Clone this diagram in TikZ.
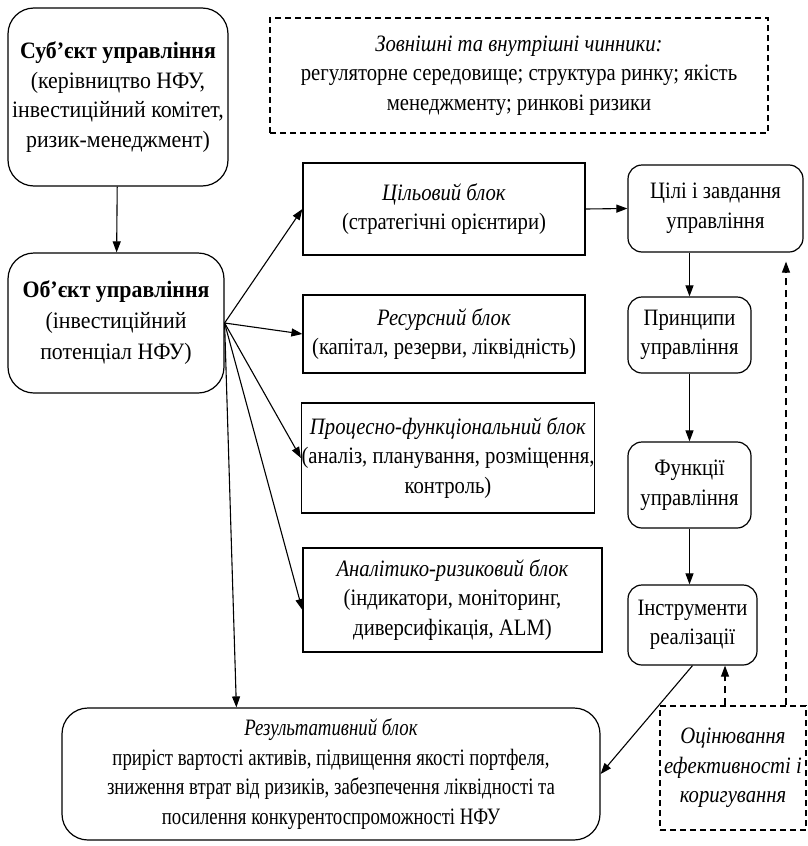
\documentclass[tikz,border=0pt]{standalone}
\usepackage{fontspec}
\setmainfont[FakeStretch=0.88]{Liberation Serif}
\newfontfamily\narrowfont[FakeStretch=0.8]{Liberation Serif}
\newfontfamily\widefont[FakeStretch=0.93]{Liberation Serif}
\usetikzlibrary{arrows.meta,calc}
\begin{document}
\begin{tikzpicture}[x=1pt,y=-1pt,
  every node/.style={font=\fontsize{23.5}{29.5}\selectfont, align=center, inner sep=0pt},
  rbox/.style={draw, line width=1.2pt, rounded corners=14pt},
  bigr/.style={draw, line width=1.2pt, rounded corners=26pt},
  dbox/.style={draw, line width=1.2pt, dash pattern=on 6pt off 4pt},
  arr/.style={line width=1.1pt, -{Triangle[length=11pt,width=8pt]}},
  darr/.style={line width=1.1pt, dash pattern=on 7pt off 5pt, -{Triangle[length=11pt,width=8pt]}}
]
\useasboundingbox (0,0) rectangle (807,846);

\node[bigr, minimum width=220pt, minimum height=178pt, font=\widefont\fontsize{23.5}{29.5}\selectfont] (subj) at (118,97)
  {\textbf{Суб’єкт управління}\\(керівництво НФУ,\\інвестиційний комітет,\\ризик-менеджмент)};
\node[dbox, minimum width=498pt, minimum height=115pt] (ext) at (519,75.5)
  {\textit{Зовнішні та внутрішні чинники:}\\регуляторне середовище; структура ринку; якість\\менеджменту; ринкові ризики};
\node[draw, line width=1.2pt, minimum width=282pt, minimum height=92pt] (target) at (444,209)
  {\textit{Цільовий блок}\\(стратегічні орієнтири)};
\node[rbox, minimum width=175pt, minimum height=87pt] (goals) at (715.5,208.5)
  {Цілі і завдання\\управління};
\node[bigr, minimum width=216pt, minimum height=140pt, font=\widefont\fontsize{23.5}{31}\selectfont] (obj) at (116,323)
  {\textbf{Об’єкт управління}\\(інвестиційний\\потенціал НФУ)};
\node[draw, line width=1.2pt, minimum width=282pt, minimum height=78pt] (res) at (444,334)
  {\textit{Ресурсний блок}\\(капітал, резерви, ліквідність)};
\node[rbox, minimum width=123pt, minimum height=76pt] (princ) at (689.5,335)
  {Принципи\\управління};
\node[draw, line width=1.2pt, minimum width=290pt, minimum height=110pt] (proc) at (448,458)
  {\textit{Процесно-функціональний блок}\\(аналіз, планування, розміщення,\\контроль)};
\node[rbox, minimum width=123pt, minimum height=86pt] (func) at (689.5,485)
  {Функції\\управління};
\node[draw, line width=1.2pt, minimum width=299pt, minimum height=104pt] (anal) at (452.5,600)
  {\textit{Аналітико-ризиковий блок}\\(індикатори, моніторинг,\\диверсифікація, ALM)};
\node[rbox, minimum width=129pt, minimum height=80pt] (instr) at (692.5,625)
  {Інструменти\\реалізації};
\node[bigr, minimum width=538pt, minimum height=132pt, font=\narrowfont\fontsize{23.5}{29.5}\selectfont] (result) at (331,774)
  {\textit{Результативний блок}\\приріст вартості активів, підвищення якості портфеля,\\зниження втрат від ризиків, забезпечення ліквідності та\\посилення конкурентоспроможності НФУ};
\node[dbox, minimum width=146pt, minimum height=124pt] (eval) at (733,768)
  {\textit{Оцінювання}\\\textit{ефективності і}\\\textit{коригування}};

\draw[arr] (subj) -- (obj);
\draw[arr] (obj.east) -- (target.west);
\draw[arr] (obj.east) -- (res.west);
\draw[arr] (obj.east) -- (proc.west);
\draw[arr] (obj.east) -- ([yshift=-10pt]anal.west);
\draw[arr] (obj.east) -- ([xshift=175pt]result.north west);
\draw[arr] (target.east) -- (goals.west);
\draw[arr] (goals.south -| princ.north) -- (princ.north);
\draw[arr] (princ) -- (func);
\draw[arr] (func.south) -- (func.south |- instr.north);
\draw[arr] (instr.south) -- (result.east);
\draw[darr] ([xshift=-8pt]eval.north) -- ([xshift=-8pt]eval.north |- instr.south);
\draw[darr, shorten >=9pt] ([xshift=53pt]eval.north) -- ([xshift=53pt]eval.north |- goals.south);
\end{tikzpicture}
\end{document}
